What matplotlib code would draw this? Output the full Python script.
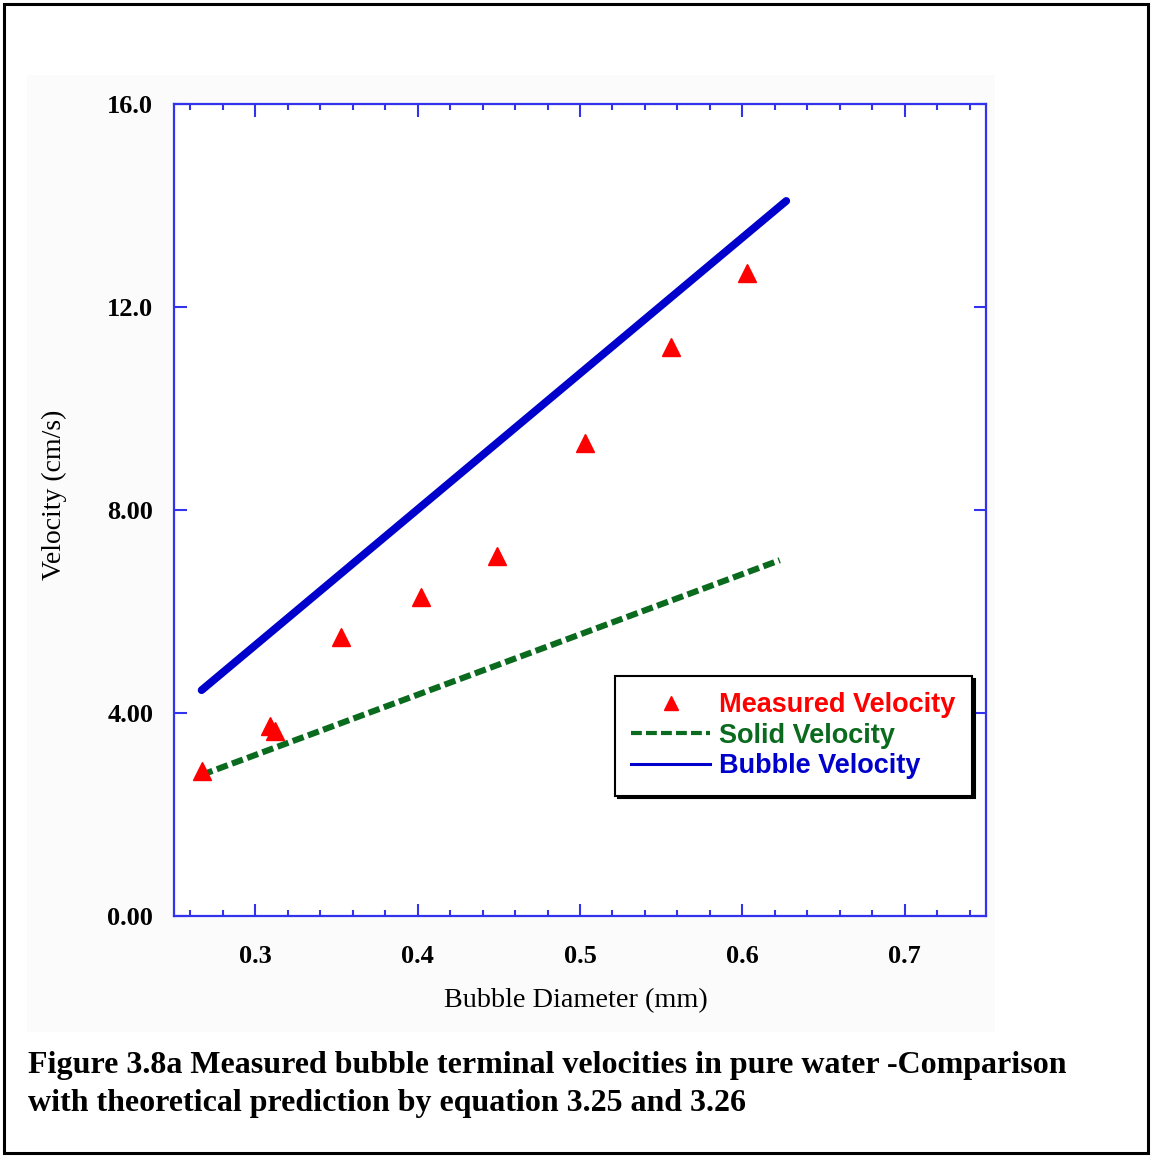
import matplotlib
matplotlib.use("Agg")
import matplotlib.pyplot as plt
from matplotlib.lines import Line2D
from matplotlib.patches import Rectangle
from matplotlib.ticker import MultipleLocator, FixedLocator

# measured bubble terminal velocities (pure water)
meas_d = [0.267, 0.309, 0.312, 0.353, 0.402, 0.449, 0.503, 0.556, 0.603]
meas_v = [2.86, 3.74, 3.65, 5.50, 6.29, 7.09, 9.32, 11.21, 12.67]

# theoretical predictions (eq. 3.25 / 3.26), straight lines
solid_d = [0.267, 0.623]
solid_v = [2.78, 7.01]
bubble_d = [0.267, 0.627]
bubble_v = [4.45, 14.09]

y_ticks = [0.0, 4.0, 8.0, 12.0, 16.0]
y_tick_labels = ["0.00", "4.00", "8.00", "12.0", "16.0"]
x_ticks = [0.3, 0.4, 0.5, 0.6, 0.7]

AX_BLUE = "#3333ee"
C_MEAS = "#ff0000"
C_SOLID = "#0a6a1e"
C_BUB = "#0000cc"

SERIF = ["Liberation Serif", "DejaVu Serif"]
SANS = ["Liberation Sans", "DejaVu Sans"]

W, H = 1151, 1156
fig = plt.figure(figsize=(W / 100, H / 100), dpi=100)
fig.patch.set_facecolor("white")

# faint panel behind the plot, and the black frame round the whole figure
fig.patches.append(Rectangle((27 / W, 1 - 1032 / H), (995 - 27) / W, (1032 - 75) / H,
                             transform=fig.transFigure, facecolor="#fbfbfb",
                             edgecolor="none", zorder=-5))
fig.patches.append(Rectangle((4 / W, 1 - 1153 / H), (1148 - 4) / W, (1153 - 4) / H,
                             transform=fig.transFigure, facecolor="none",
                             edgecolor="black", linewidth=2.2, zorder=5))

ax = fig.add_axes([174 / W, 1 - 916 / H, (986 - 174) / W, (916 - 104) / H])
ax.set_facecolor("white")

ax.plot(bubble_d, bubble_v, color=C_BUB, linewidth=5.6, solid_capstyle="round",
        label="Bubble Velocity", zorder=3)
ax.plot(solid_d, solid_v, color=C_SOLID, linewidth=4.4, dashes=(1.9, 0.75),
        dash_capstyle="butt", label="Solid Velocity", zorder=3)
ax.plot(meas_d, meas_v, linestyle="none", marker="^", markersize=13,
        color=C_MEAS, markeredgecolor=C_MEAS, label="Measured Velocity", zorder=4)

ax.set_xlim(0.25, 0.75)
ax.set_ylim(0, 16)
ax.xaxis.set_major_locator(FixedLocator(x_ticks))
ax.xaxis.set_minor_locator(MultipleLocator(0.02))
ax.set_yticks(y_ticks)
ax.set_yticklabels(y_tick_labels)
ax.set_xticklabels([f"{v:.1f}" for v in x_ticks])

for s in ax.spines.values():
    s.set_color(AX_BLUE)
    s.set_linewidth(1.6)
ax.tick_params(which="both", direction="in", top=True, right=True,
               color=AX_BLUE, width=1.5)
ax.tick_params(which="major", length=9)
ax.tick_params(which="minor", length=4.5)
ax.tick_params(axis="x", which="major", pad=21)
ax.tick_params(axis="y", which="major", pad=15)
for lab in ax.get_xticklabels() + ax.get_yticklabels():
    lab.set_family(SERIF)
    lab.set_fontweight("bold")
    lab.set_fontsize(19)

ax.set_xlabel("Bubble Diameter (mm)", family=SERIF, fontsize=20.3, va="center")
ax.xaxis.set_label_coords((576 - 174) / 812, (916 - 1001) / 812)
ax.set_ylabel("Velocity (cm/s)", family=SERIF, fontsize=20, va="center")
ax.yaxis.set_label_coords((54 - 174) / 812, (916 - 495) / 812)

handles = [
    Line2D([], [], linestyle="none", marker="^", markersize=10, color=C_MEAS),
    Line2D([], [], color=C_SOLID, linewidth=3.0, dashes=(2.6, 1.0)),
    Line2D([], [], color=C_BUB, linewidth=2.2),
]
leg = ax.legend(handles, ["Measured Velocity", "Solid Velocity", "Bubble Velocity"],
                loc="upper left", bbox_to_anchor=((615 - 174) / 812, (916 - 676) / 812),
                prop={"family": SANS, "weight": "bold", "size": 19.5},
                labelcolor=[C_MEAS, C_SOLID, C_BUB], fancybox=False,
                shadow={"color": "black", "alpha": 1.0}, framealpha=1.0,
                edgecolor="black", handlelength=2.9, handletextpad=0.35,
                labelspacing=0.17, borderpad=0.6, borderaxespad=0.0)
leg.get_frame().set_linewidth(1.5)

fig.text(28 / W, 1 - 1066 / H,
         "Figure 3.8a Measured bubble terminal velocities in pure water -Comparison",
         family=SERIF, fontweight="bold", fontsize=23, va="center", ha="left")
fig.text(28 / W, 1 - 1103 / H,
         "with theoretical prediction by equation 3.25 and 3.26",
         family=SERIF, fontweight="bold", fontsize=23, va="center", ha="left")

fig.savefig("out.png", dpi=100, facecolor="white")
